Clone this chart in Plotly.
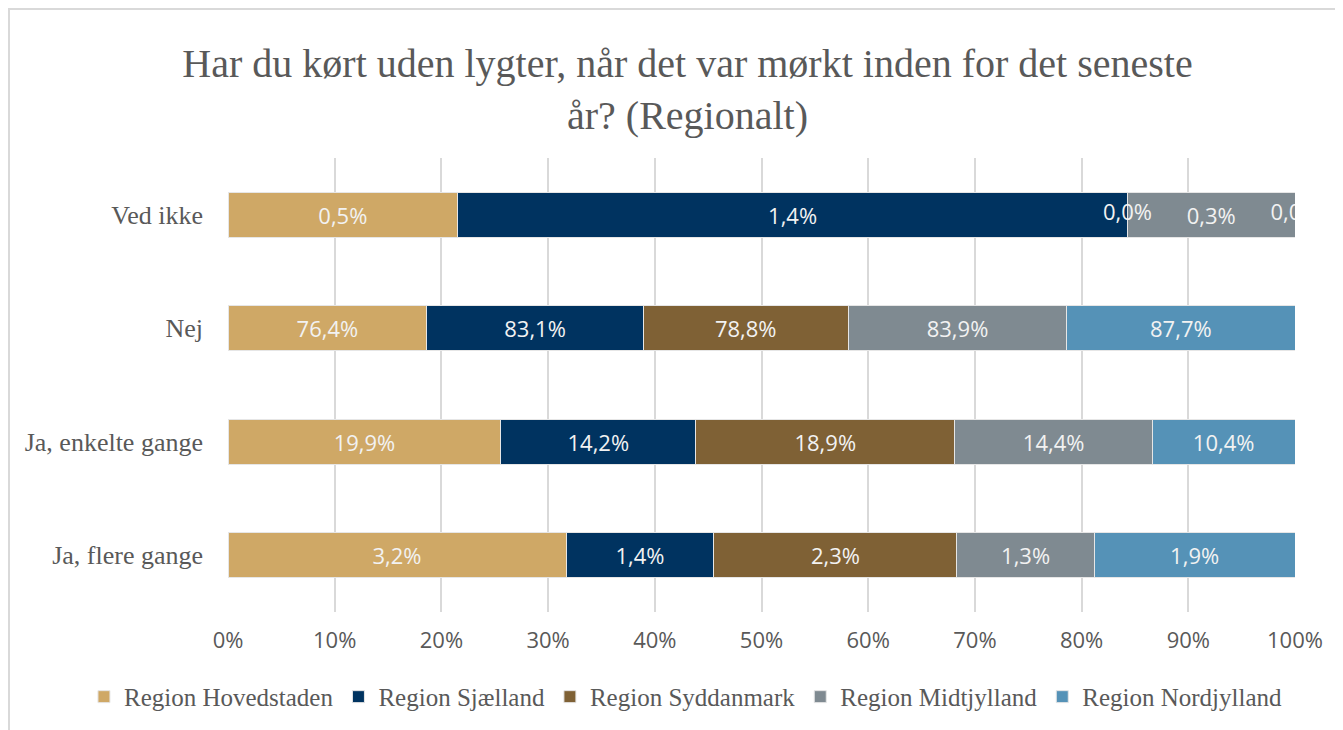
import numpy as np
import plotly.graph_objects as go

categories = ["Ja, flere gange", "Ja, enkelte gange", "Nej", "Ved ikke"]
regions = ["Region Hovedstaden", "Region Sjælland", "Region Syddanmark",
           "Region Midtjylland", "Region Nordjylland"]

# values per region, in category order above (percent within region)
hovedstaden = [3.2, 19.9, 76.4, 0.48]
sjaelland = [1.4, 14.2, 83.1, 1.40]
syddanmark = [2.3, 18.9, 78.8, 0.0]
midtjylland = [1.3, 14.4, 83.9, 0.35]
nordjylland = [1.9, 10.4, 87.7, 0.0]
series = [hovedstaden, sjaelland, syddanmark, midtjylland, nordjylland]

colors = ["#CFA866", "#003360", "#7F6135", "#7F8A91", "#5592B7"]

SERIF = "Liberation Serif"
SANS = "Open Sans"
GREY = "#595959"


def fmt(v):
    return f"{v:.1f}%".replace(".", ",")


fig = go.Figure()
for name, vals, col in zip(regions, series, colors):
    fig.add_trace(go.Bar(
        y=categories, x=vals, name=name, orientation="h",
        marker=dict(color=col, line=dict(color="#E6E6E6", width=1)),
        text=[fmt(v) if v > 0 else "" for v in vals],
        textposition="inside", insidetextanchor="middle",
        textfont=dict(family=SANS, size=22, color="#F2F2F2"),
        hoverinfo="skip",
    ))

# labels for zero-width segments, placed at their cumulative (normalised) position
arr = np.array(series, dtype=float)
norm = arr / arr.sum(axis=0) * 100
cum = np.cumsum(norm, axis=0)
zx, zy, zt = [], [], []
for i in range(arr.shape[0]):
    for j in range(arr.shape[1]):
        if arr[i, j] == 0:
            zx.append(cum[i, j])
            zy.append(categories[j])
            zt.append(fmt(arr[i, j]))
fig.add_trace(go.Scatter(
    x=zx, y=zy, text=zt, mode="text", showlegend=False, cliponaxis=True,
    textfont=dict(family=SANS, size=22, color="#F2F2F2"), hoverinfo="skip",
))

fig.update_layout(
    barmode="stack", barnorm="percent", bargap=0.6,
    width=1335, height=722,
    margin=dict(l=220, r=48, t=150, b=118, autoexpand=False),
    paper_bgcolor="white", plot_bgcolor="white",
    title=dict(
        text="Har du kørt uden lygter, når det var mørkt inden for det seneste<br>år? (Regionalt)",
        x=0.509, xanchor="center", y=1 - 69 / 722, yanchor="middle", yref="container",
        font=dict(family=SERIF, size=40, color=GREY),
    ),
    xaxis=dict(
        range=[0, 100], tickvals=list(range(0, 101, 10)),
        ticktext=[f"{v}%" for v in range(0, 101, 10)],
        showgrid=True, gridcolor="#D9D9D9", gridwidth=1.5,
        zeroline=False, showline=False, ticks="",
        tickfont=dict(family=SANS, size=22, color=GREY),
        ticklabelstandoff=13,
    ),
    yaxis=dict(
        showgrid=False, zeroline=False, showline=False, ticks="",
        tickfont=dict(family=SERIF, size=26, color=GREY),
        ticklabelstandoff=24,
    ),
    legend=dict(
        orientation="h", x=-0.135, xanchor="left",
        y=-0.187, yanchor="middle",
        font=dict(family=SERIF, size=25, color=GREY), traceorder="normal",
        itemwidth=30,
    ),
    shapes=[dict(type="rect", xref="paper", yref="paper",
                 x0=-219 / 1067, x1=1.2, y0=-0.5, y1=1 + 149 / 454,
                 line=dict(color="#D9D9D9", width=2), fillcolor="rgba(0,0,0,0)",
                 layer="below")],
)

fig.write_html("out.html")
